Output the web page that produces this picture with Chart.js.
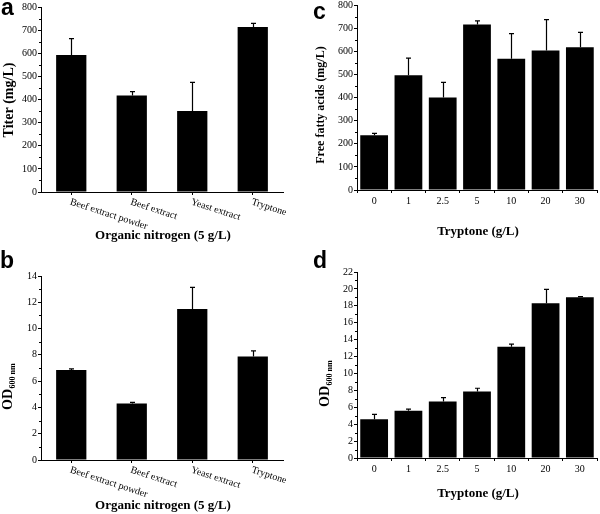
<!DOCTYPE html>
<html>
<head>
<meta charset="utf-8">
<script src="https://cdn.jsdelivr.net/npm/chart.js@4"></script>
<style>
  html, body { margin: 0; padding: 0; background: #fff; }
  #wrap { position: relative; width: 600px; height: 514px; overflow: hidden; background: #fff; }
  canvas { position: absolute; }
  .letter { position: absolute; font: bold 23px/23px "Liberation Sans", Arial, sans-serif; color: #000; z-index: 2; }
</style>
</head>
<body>
<div id="wrap">
  <canvas id="ca" width="300" height="257" style="left:0;top:0"></canvas>
  <canvas id="cb" width="300" height="257" style="left:0;top:257px"></canvas>
  <canvas id="cc" width="300" height="257" style="left:300px;top:0"></canvas>
  <canvas id="cd" width="300" height="257" style="left:300px;top:257px"></canvas>
  <div class="letter" style="left:1px;top:-4.5px">a</div>
  <div class="letter" style="left:0px;top:248.5px">b</div>
  <div class="letter" style="left:313px;top:-0.5px">c</div>
  <div class="letter" style="left:313px;top:248.5px">d</div>
</div>
<script>
// ---- data ----
const nitrogenSources = ['Beef extract powder', 'Beef extract', 'Yeast extract', 'Tryptone'];
const titerA = [592, 417, 350, 714];
const titerErrA = [71, 17, 124, 15];
const odB = [6.84, 4.30, 11.49, 7.87];
const odErrB = [0.10, 0.08, 1.65, 0.43];
const tryptoneLevels = ['0', '1', '2.5', '5', '10', '20', '30'];
const ffaC = [237, 496, 400, 716, 568, 603, 617];
const ffaErrC = [8, 74, 65, 15, 108, 134, 65];
const odD = [4.58, 5.60, 6.67, 7.86, 13.15, 18.29, 19.00];
const odErrD = [0.59, 0.17, 0.48, 0.39, 0.32, 1.65, 0.08];

Chart.defaults.font.family = '"Liberation Serif", "Times New Roman", serif';
Chart.defaults.color = '#000';

const SERIF = '"Liberation Serif", "Times New Roman", serif';

const decor = {
  id: 'decor',
  afterDatasetsDraw(chart, args, o) {
    const ctx = chart.ctx;
    const ys = chart.scales.y;
    const meta = chart.getDatasetMeta(0);
    const vals = chart.data.datasets[0].data;
    ctx.save();
    ctx.strokeStyle = '#000';
    ctx.lineWidth = 1.2;
    meta.data.forEach((bar, i) => {
      const x = Math.round(bar.x) + 0.5;
      const y1 = ys.getPixelForValue(vals[i]);
      const y2 = ys.getPixelForValue(vals[i] + o.errors[i]);
      ctx.beginPath();
      ctx.moveTo(x, y1);
      ctx.lineTo(x, y2);
      ctx.moveTo(x - 2.5, y2);
      ctx.lineTo(x + 2.5, y2);
      ctx.stroke();
    });
    ctx.restore();
  },
  afterDraw(chart, args, o) {
    const ctx = chart.ctx;
    const ys = chart.scales.y;
    const xs = chart.scales.x;
    const area = chart.chartArea;
    ctx.save();
    ctx.fillStyle = '#000';
    ctx.strokeStyle = '#000';
    ctx.lineWidth = 1;
    // minor ticks
    for (let v = o.minor; v < ys.max; v += o.minor * 2) {
      const y = Math.round(ys.getPixelForValue(v)) + 0.5;
      ctx.beginPath();
      ctx.moveTo(area.left - 2, y);
      ctx.lineTo(area.left, y);
      ctx.stroke();
    }
    // rotated category labels
    if (o.rotated) {
      ctx.font = '10px ' + SERIF;
      ctx.textAlign = 'left';
      ctx.textBaseline = 'top';
      chart.data.labels.forEach((lab, i) => {
        const x = xs.getPixelForTick(i);
        ctx.save();
        ctx.translate(x + 0.5, area.bottom + 5);
        ctx.rotate(18 * Math.PI / 180);
        ctx.fillText(lab, 0, 0);
        ctx.restore();
      });
    }
    // x title
    ctx.font = 'bold ' + o.xTitle.size + 'px ' + SERIF;
    ctx.textAlign = 'center';
    ctx.textBaseline = 'middle';
    ctx.fillText(o.xTitle.text, o.xTitle.x, o.xTitle.y);
    // y title
    const yt = o.yTitle;
    ctx.save();
    ctx.translate(yt.x, yt.y);
    ctx.rotate(-Math.PI / 2);
    if (yt.sub) {
      ctx.textAlign = 'left';
      ctx.textBaseline = 'alphabetic';
      ctx.font = 'bold ' + yt.size + 'px ' + SERIF;
      ctx.fillText(yt.text, 0, 0);
      const w = ctx.measureText(yt.text).width;
      ctx.font = 'bold ' + yt.subSize + 'px ' + SERIF;
      ctx.fillText(yt.sub, w + 0.5, 3);
    } else {
      ctx.textAlign = 'center';
      ctx.textBaseline = 'middle';
      ctx.font = 'bold ' + yt.size + 'px ' + SERIF;
      ctx.fillText(yt.text, 0, 0);
    }
    ctx.restore();
    ctx.restore();
  }
};

function makeChart(id, p) {
  return new Chart(document.getElementById(id), {
    type: 'bar',
    data: {
      labels: p.labels,
      datasets: [{
        data: p.values,
        backgroundColor: '#000',
        borderWidth: 0,
        barPercentage: 1,
        categoryPercentage: p.catPct
      }]
    },
    options: {
      responsive: false,
      animation: false,
      devicePixelRatio: 1,
      events: [],
      layout: { padding: { left: 0, right: p.right, top: p.top, bottom: 0 } },
      plugins: {
        legend: { display: false },
        tooltip: { enabled: false },
        decor: {
          errors: p.errors, minor: p.step / 2, rotated: p.rotated,
          xTitle: p.xTitle, yTitle: p.yTitle
        }
      },
      scales: {
        x: {
          grid: { offset: p.gridOffset, drawOnChartArea: false, drawTicks: true, tickLength: 3, color: '#000', lineWidth: 1 },
          border: { display: true, color: '#000', width: 1 },
          ticks: { display: !p.rotated, font: { size: 10, lineHeight: 1 }, color: '#000', padding: 3, maxRotation: 0, minRotation: 0, autoSkip: false },
          afterFit: s => { s.height = p.xHeight; }
        },
        y: {
          min: 0, max: p.max,
          grid: { drawOnChartArea: false, drawTicks: true, tickLength: 3, color: '#000', lineWidth: 1 },
          border: { display: true, color: '#000', width: 1 },
          ticks: { stepSize: p.step, font: { size: 10, lineHeight: 0.8 }, color: '#000', padding: 1 },
          afterFit: s => { s.width = p.yWidth; }
        }
      }
    },
    plugins: [decor]
  });
}

makeChart('ca', {
  labels: nitrogenSources, values: titerA, errors: titerErrA, catPct: 0.5,
  max: 800, step: 100, rotated: true, gridOffset: false,
  yWidth: 41, xHeight: 65, top: 7, right: 17,
  xTitle: { text: 'Organic nitrogen (5 g/L)', x: 163, y: 236, size: 13 },
  yTitle: { text: 'Titer (mg/L)', x: 9, y: 100, size: 14 }
});

makeChart('cb', {
  labels: nitrogenSources, values: odB, errors: odErrB, catPct: 0.5,
  max: 14, step: 2, rotated: true, gridOffset: false,
  yWidth: 41, xHeight: 54, top: 19, right: 17,
  xTitle: { text: 'Organic nitrogen (5 g/L)', x: 163, y: 249, size: 13 },
  yTitle: { text: 'OD', sub: '600 nm', x: 12, y: 153, size: 14, subSize: 8 }
});

makeChart('cc', {
  labels: tryptoneLevels, values: ffaC, errors: ffaErrC, catPct: 0.81,
  max: 800, step: 100, rotated: false, gridOffset: true,
  yWidth: 57, xHeight: 67, top: 5, right: 3,
  xTitle: { text: 'Tryptone (g/L)', x: 178, y: 232, size: 13 },
  yTitle: { text: 'Free fatty acids (mg/L)', x: 21, y: 105, size: 12 }
});

makeChart('cd', {
  labels: tryptoneLevels, values: odD, errors: odErrD, catPct: 0.81,
  max: 22, step: 2, rotated: false, gridOffset: true,
  yWidth: 57, xHeight: 56, top: 15, right: 3,
  xTitle: { text: 'Tryptone (g/L)', x: 178, y: 237, size: 13 },
  yTitle: { text: 'OD', sub: '600 nm', x: 29, y: 150, size: 14, subSize: 8 }
});
</script>
</body>
</html>
